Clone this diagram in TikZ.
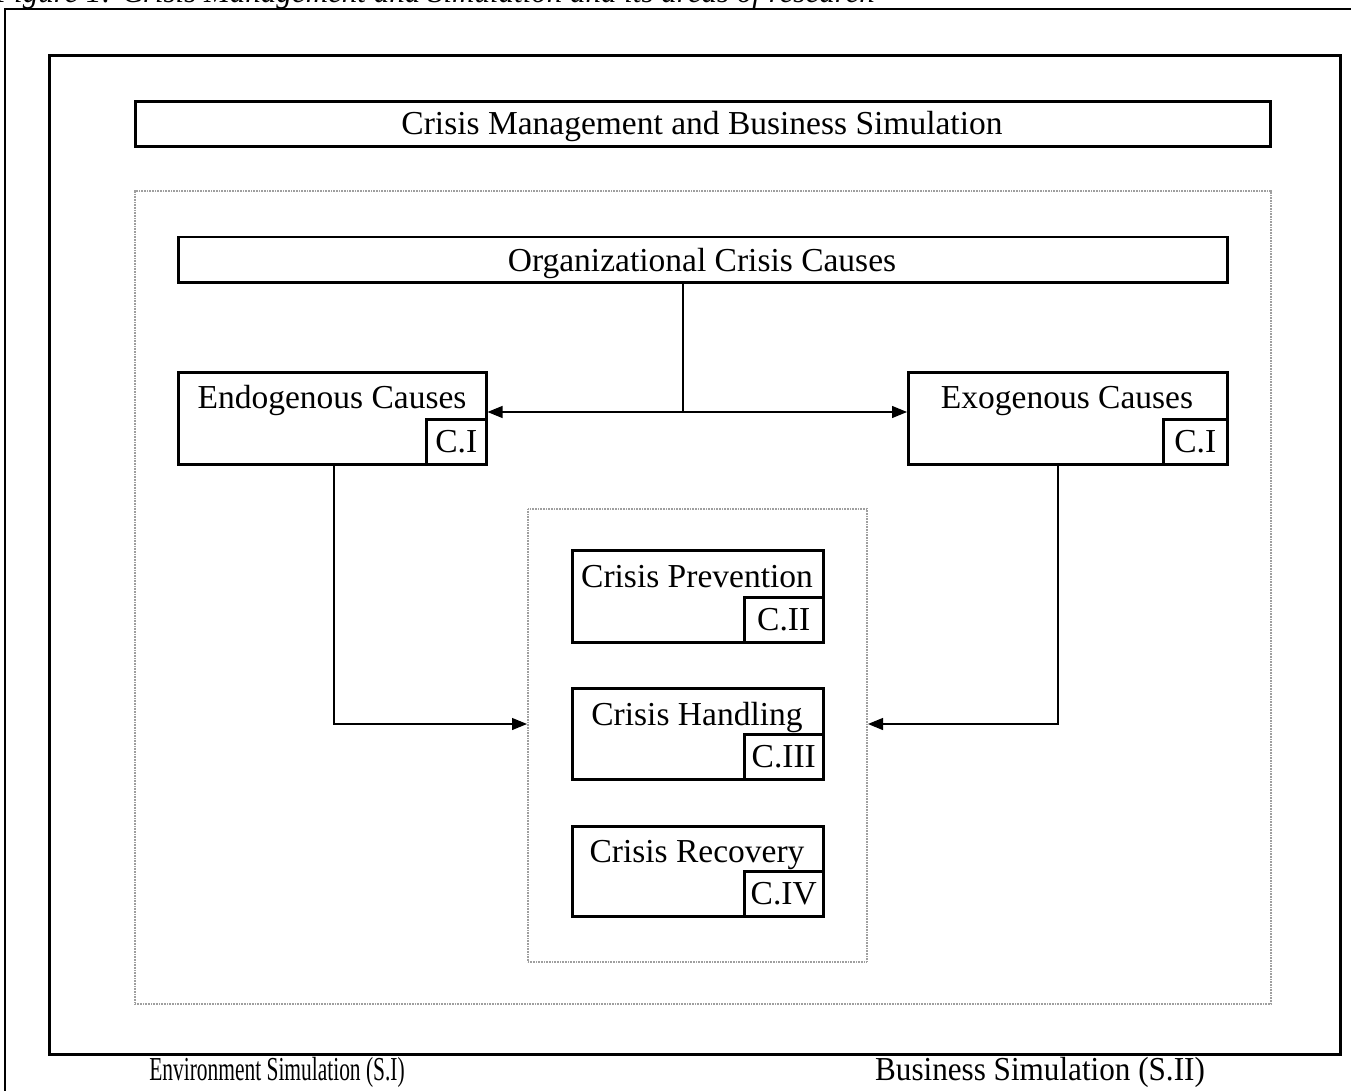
\documentclass[tikz,border=0pt]{standalone}
\usepackage{fontspec}
\setmainfont{Liberation Serif}
\usetikzlibrary{arrows.meta}
\begin{document}
\begin{tikzpicture}[x=1pt,y=-1pt,
  frame/.style={draw, line width=3pt, inner sep=0pt, anchor=north west},
  box/.style={draw, line width=2.5pt, inner sep=0pt, anchor=north west},
  tagbox/.style={draw, line width=2.5pt, inner sep=0pt, anchor=south east, font=\fontsize{33.5}{40}\selectfont},
  dotbox/.style={draw=gray!75, line width=2pt, dash pattern=on 1pt off 0.6pt, inner sep=0pt, anchor=north west},
  txt/.style={font=\fontsize{33.5}{40}\selectfont, anchor=base, inner sep=0pt},
  conn/.style={line width=1.2pt},
  tip/.style={-{Triangle[length=15pt,width=12pt]}}
]
\useasboundingbox (0,0) rectangle (1351,1091);

% caption (cut off at the top)
\node[font=\fontsize{31}{38}\selectfont\itshape, anchor=base west, inner sep=0pt] (cap) at (-5,3) {Figure 1: Crisis Management and Simulation and its areas of research};

% outer frame
\coordinate (of1) at (5,1095);
\coordinate (of2) at (5,9);
\coordinate (of3) at (1356,9);
\draw[line width=2pt] (of1) -- (of2) -- (of3);

% main frame
\node[frame, minimum width=1291, minimum height=999] (main) at (48,54) {};

% title
\node[frame, minimum width=1135, minimum height=45] (title) at (134,100) {};
\node[txt] (titletxt) at (702,135) {Crisis Management and Business Simulation};

% dotted area
\node[dotbox, minimum width=1136, minimum height=813] (area) at (134,190) {};

% organizational causes
\node[box, minimum width=1049, minimum height=45] (org) at (177,236) {};
\node[txt] (orgtxt) at (702,272) {Organizational Crisis Causes};

% endogenous
\node[box, minimum width=308, minimum height=92] (endo) at (177,371) {};
\node[txt] (endotxt) at (332,408) {Endogenous Causes};
\node[tagbox, minimum width=60, minimum height=45] (endoci) at (endo.south east) {C.I};

% exogenous
\node[box, minimum width=319, minimum height=92] (exo) at (907,371) {};
\node[txt] (exotxt) at (1067,408) {Exogenous Causes};
\node[tagbox, minimum width=64, minimum height=45] (exoci) at (exo.south east) {C.I};

% central dotted area
\node[dotbox, minimum width=339, minimum height=453] (core) at (527,508) {};

% prevention
\node[box, minimum width=251, minimum height=92] (prev) at (571,549) {};
\node[txt] (prevtxt) at (697,587) {Crisis Prevention};
\node[tagbox, minimum width=79, minimum height=45] (prevc) at (prev.south east) {C.II};

% handling
\node[box, minimum width=251, minimum height=91] (hand) at (571,687) {};
\node[txt] (handtxt) at (697,725) {Crisis Handling};
\node[tagbox, minimum width=79, minimum height=45] (handc) at (hand.south east) {C.III};

% recovery
\node[box, minimum width=251, minimum height=90] (reco) at (571,825) {};
\node[txt] (recotxt) at (697,862) {Crisis Recovery};
\node[tagbox, minimum width=79, minimum height=45] (recoc) at (reco.south east) {C.IV};

% connectors
\coordinate (j) at (683,412);
\draw[conn] (org.south -| j) -- (j);
\draw[conn, {Triangle[length=15pt,width=12pt]}-{Triangle[length=15pt,width=12pt]}] (endo.east |- j) -- (exo.west |- j);

\coordinate (lturn) at (334,724);
\coordinate (rturn) at (1058,724);
\draw[conn, tip] (endo.south -| lturn) -- (lturn) -- (core.west |- lturn);
\draw[conn, tip] (exo.south -| rturn) -- (rturn) -- (core.east |- rturn);

% bottom labels
\node[txt] (envsim) at (277,1080) {\scalebox{0.64}[1]{Environment Simulation (S.I)}};
\node[txt] (bussim) at (1040,1080) {\scalebox{0.93}[1]{Business Simulation (S.II)}};
\end{tikzpicture}
\end{document}
